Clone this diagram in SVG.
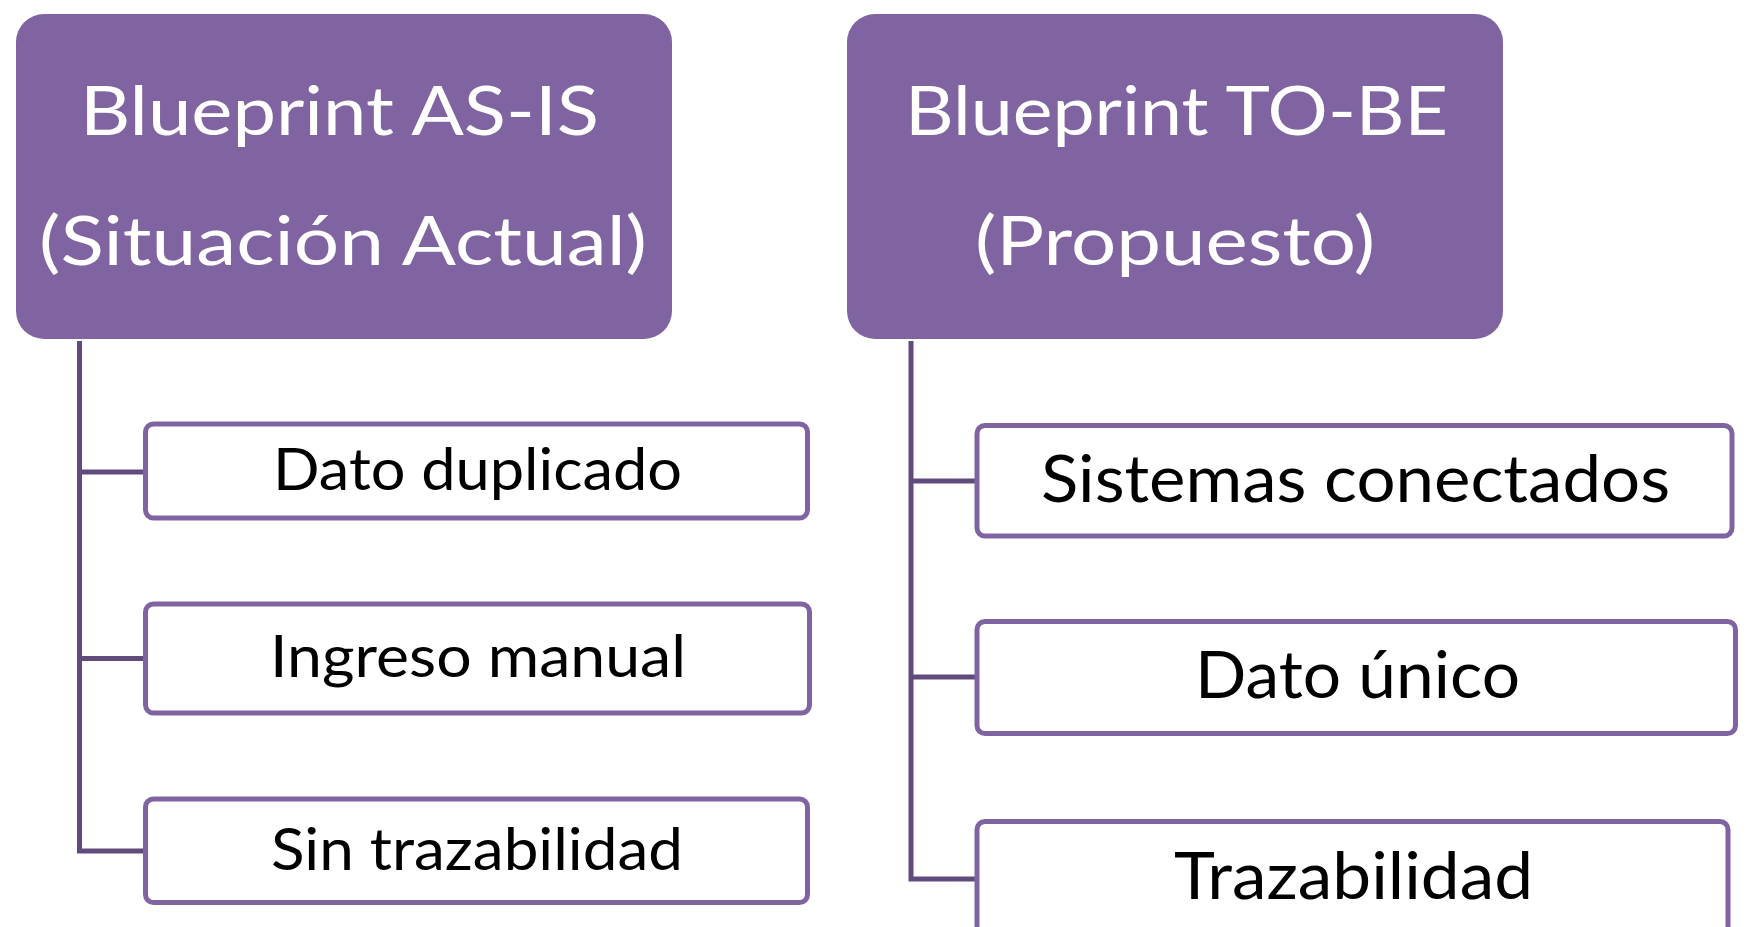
<svg xmlns="http://www.w3.org/2000/svg" width="1747" height="927" viewBox="0 0 1747 927">
<style>
.hdr{fill:#8064A2}
.child{fill:#FFFFFF;stroke:#8064A2;stroke-width:5}
.conn{fill:none;stroke:#604C7C;stroke-width:5;stroke-linejoin:miter}
.ht{font-family:Lato,"Liberation Sans",sans-serif;font-size:68px;fill:#FFFFFF}
.ct{font-family:Lato,"Liberation Sans",sans-serif;fill:#000000}
</style>
<rect width="1747" height="927" fill="#FFFFFF"/>
<g id="connectors">
<path class="conn" d="M79.5 341 V851 H143"/>
<path class="conn" d="M79.5 472 H143"/>
<path class="conn" d="M79.5 658.5 H143"/>
<path class="conn" d="M911 341 V879 H975"/>
<path class="conn" d="M911 481 H975"/>
<path class="conn" d="M911 677 H975"/>
</g>
<g id="asis">
<rect class="hdr" x="16" y="14" width="656" height="325" rx="28"/>
<text class="ht" x="80" y="135" textLength="519" lengthAdjust="spacingAndGlyphs">Blueprint AS-IS</text>
<text class="ht" x="39" y="265" textLength="608" lengthAdjust="spacingAndGlyphs">(Situación Actual)</text>
</g>
<g id="tobe">
<rect class="hdr" x="847" y="14" width="656" height="325" rx="28"/>
<text class="ht" x="905" y="135" textLength="543" lengthAdjust="spacingAndGlyphs">Blueprint TO-BE</text>
<text class="ht" x="975" y="265" textLength="400" lengthAdjust="spacingAndGlyphs">(Propuesto)</text>
</g>
<g id="dato-duplicado">
<rect class="child" x="145.5" y="424" width="662" height="94" rx="8"/>
<text class="ct" x="273" y="490" font-size="58" textLength="409" lengthAdjust="spacingAndGlyphs">Dato duplicado</text>
</g>
<g id="ingreso-manual">
<rect class="child" x="145.5" y="604" width="664" height="109" rx="8"/>
<text class="ct" x="270" y="677" font-size="59" textLength="416" lengthAdjust="spacingAndGlyphs">Ingreso manual</text>
</g>
<g id="sin-trazabilidad">
<rect class="child" x="145.5" y="799" width="662" height="103.5" rx="8"/>
<text class="ct" x="271" y="870" font-size="59" textLength="412" lengthAdjust="spacingAndGlyphs">Sin trazabilidad</text>
</g>
<g id="sistemas-conectados">
<rect class="child" x="977" y="425.5" width="755" height="110.5" rx="8"/>
<text class="ct" x="1041" y="502" font-size="65" textLength="629" lengthAdjust="spacingAndGlyphs">Sistemas conectados</text>
</g>
<g id="dato-unico">
<rect class="child" x="977" y="621.5" width="758.5" height="112" rx="8"/>
<text class="ct" x="1195" y="698" font-size="65" textLength="325" lengthAdjust="spacingAndGlyphs">Dato único</text>
</g>
<g id="trazabilidad">
<rect class="child" x="977" y="821.5" width="751" height="130" rx="8"/>
<text class="ct" x="1174" y="899" font-size="65" textLength="359" lengthAdjust="spacingAndGlyphs">Trazabilidad</text>
</g>
</svg>
